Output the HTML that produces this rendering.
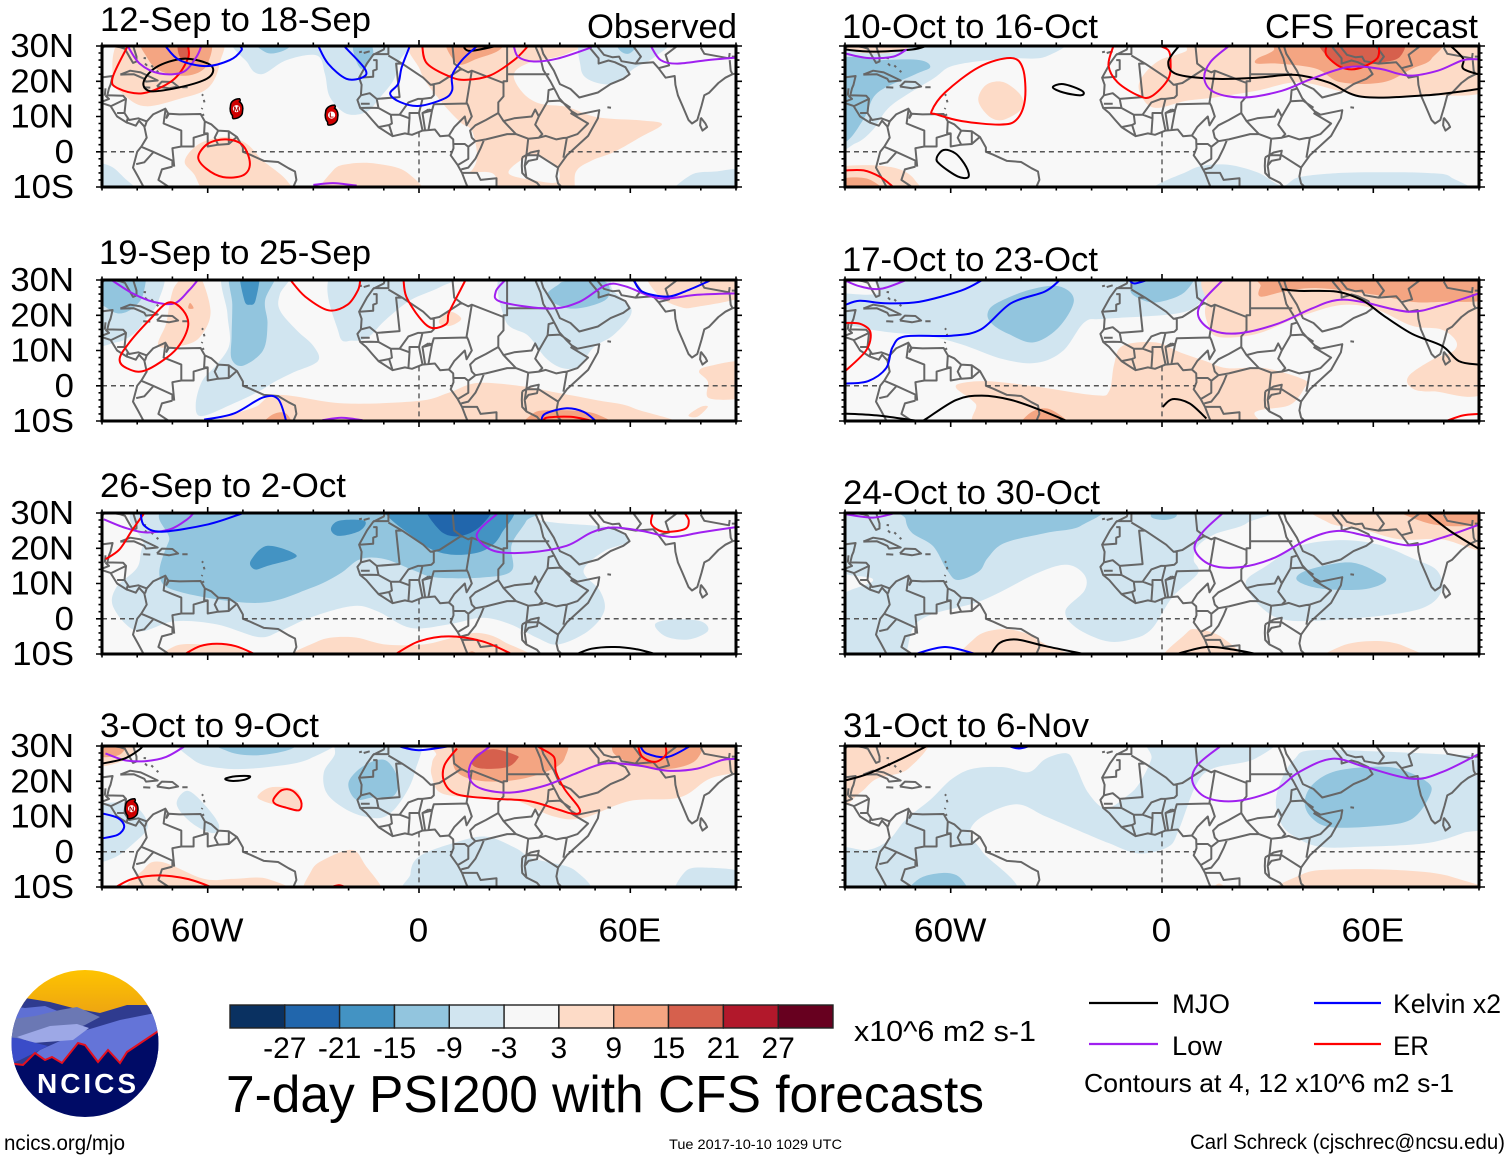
<!DOCTYPE html>
<html lang="en">
<head>
<meta charset="utf-8">
<title>7-day PSI200 with CFS forecasts</title>
<style>
html,body{margin:0;padding:0;background:#fff;}
svg{display:block;position:absolute;left:0;top:0;}
text{font-family:"Liberation Sans",Arial,sans-serif;fill:#000;}
</style>
</head>
<body>
<svg id="chart" xmlns="http://www.w3.org/2000/svg" width="1510" height="1159" viewBox="0 0 1510 1159">
  <rect x="0" y="0" width="1510" height="1159" fill="#ffffff"/>
  <g id="panels"></g>

  <g font-size="34">
    <text x="100" y="31" textLength="271" lengthAdjust="spacingAndGlyphs">12-Sep to 18-Sep</text>
    <text x="99" y="264" textLength="272" lengthAdjust="spacingAndGlyphs">19-Sep to 25-Sep</text>
    <text x="100" y="497" textLength="246" lengthAdjust="spacingAndGlyphs">26-Sep to 2-Oct</text>
    <text x="100" y="737" textLength="219" lengthAdjust="spacingAndGlyphs">3-Oct to 9-Oct</text>
    <text x="842" y="38" textLength="256" lengthAdjust="spacingAndGlyphs">10-Oct to 16-Oct</text>
    <text x="842" y="271" textLength="256" lengthAdjust="spacingAndGlyphs">17-Oct to 23-Oct</text>
    <text x="843" y="504" textLength="257" lengthAdjust="spacingAndGlyphs">24-Oct to 30-Oct</text>
    <text x="843" y="737" textLength="246" lengthAdjust="spacingAndGlyphs">31-Oct to 6-Nov</text>
    <text x="587" y="38" textLength="150" lengthAdjust="spacingAndGlyphs">Observed</text>
    <text x="1265" y="38" textLength="213" lengthAdjust="spacingAndGlyphs">CFS Forecast</text>
  </g>

  <g id="logo">
    <defs>
      <clipPath id="logo-clip"><circle cx="85" cy="1043.5" r="73.5"/></clipPath>
      <linearGradient id="sun" x1="0" y1="0" x2="0" y2="1">
        <stop offset="0" stop-color="#ffc400"/><stop offset="1" stop-color="#eda412"/>
      </linearGradient>
    </defs>
    <g clip-path="url(#logo-clip)">
      <rect x="10" y="969" width="150" height="46" fill="url(#sun)"/>
      <path d="M5 1012 L25 998 L50 1002 L73 1008 L100 1013 L127 1005 L147 1005 L165 1022 L165 1070 L5 1070 Z" fill="#2f3b8f"/>
      <path d="M5 1005 L25 1008 L45 1006 L60 1012 L30 1018 L5 1020 Z" fill="#5f70d4"/>
      <path d="M5 1020 L35 1016 L60 1010 L77 1007 L100 1017 L85 1025 L50 1040 L5 1040 Z" fill="#6b78b4"/>
      <path d="M80 1032 L120 1020 L160 1012 L165 1070 L15 1070 L40 1050 Z" fill="#6474d8"/>
      <path d="M17 1037 L50 1026 L77 1024 L89 1028 L73 1040 L33 1043 Z" fill="#9da8e6"/>
      <path d="M5 1037 L17 1038 L40 1044 L48 1046 L20 1060 L5 1066 Z" fill="#3a4cc8"/>
      <path d="M5 1064 L15 1064 L23 1065 L35 1053 L45 1060 L52 1057 L62 1063 L78 1043 L85 1045 L98 1062 L108 1050 L120 1063 L127 1052 L157 1032 L165 1025 L165 1125 L5 1125 Z" fill="#000b66"/>
      <path d="M5 1064 L15 1064 L23 1065 L35 1053 L45 1060 L52 1057 L62 1063 L78 1043 L85 1045 L98 1062 L108 1050 L120 1063 L127 1052 L157 1032 L165 1025" fill="none" stroke="#e3101f" stroke-width="2"/>
    </g>
    <text x="37" y="1093" font-size="28" font-weight="bold" textLength="99" lengthAdjust="spacing" style="fill:#fff">NCICS</text>
  </g>

  <g id="colorbar"></g>
  <text x="854" y="1041" font-size="29" textLength="182" lengthAdjust="spacingAndGlyphs">x10^6 m2 s-1</text>
  <text x="226" y="1112" font-size="52" textLength="758" lengthAdjust="spacingAndGlyphs">7-day PSI200 with CFS forecasts</text>

  <g>
    <line x1="1089" y1="1003" x2="1158" y2="1003" stroke="#000000" stroke-width="2.2"/>
    <text x="1172" y="1013" font-size="27" textLength="58" lengthAdjust="spacingAndGlyphs">MJO</text>
    <line x1="1314" y1="1003" x2="1381" y2="1003" stroke="#0000ff" stroke-width="2.2"/>
    <text x="1393" y="1013" font-size="27" textLength="108" lengthAdjust="spacingAndGlyphs">Kelvin x2</text>
    <line x1="1089" y1="1044" x2="1158" y2="1044" stroke="#a020f0" stroke-width="2.2"/>
    <text x="1172" y="1055" font-size="27" textLength="50" lengthAdjust="spacingAndGlyphs">Low</text>
    <line x1="1314" y1="1044" x2="1381" y2="1044" stroke="#ff0000" stroke-width="2.2"/>
    <text x="1393" y="1055" font-size="27" textLength="36" lengthAdjust="spacingAndGlyphs">ER</text>
    <text x="1084" y="1092" font-size="26" textLength="370" lengthAdjust="spacingAndGlyphs">Contours at 4, 12 x10^6 m2 s-1</text>
  </g>

  <text x="4" y="1150" font-size="21" textLength="121" lengthAdjust="spacingAndGlyphs">ncics.org/mjo</text>
  <text x="669" y="1149" font-size="14" textLength="173" lengthAdjust="spacingAndGlyphs">Tue 2017-10-10 1029 UTC</text>
  <text x="1190" y="1149" font-size="21" textLength="315" lengthAdjust="spacingAndGlyphs">Carl Schreck (cjschrec@ncsu.edu)</text>
</svg>

<script>
/* ---------- tick labels ---------- */
const latTickValues = [30, 20, 10, 0, -10];
const latTickLabels = ["30N", "20N", "10N", "0", "10S"];
const lonTickValues = [-60, 0, 60];
const lonTickLabels = ["60W", "0", "60E"];

/* ---------- colorbar ---------- */
const colorbarColors = ["#0a3161","#2166ac","#4393c3","#92c5de","#d1e5f0","#f7f7f7","#fddbc7","#f4a582","#d6604d","#b2182b","#67001f"];
const colorbarTicks = ["-27","-21","-15","-9","-3","3","9","15","21","27"];

/* shading band -> colour */
const levelValues = [-27,-21,-15,-9,-3,0,3,9,15,21,27];

/* wave type -> contour colour */
const waveNames = ["MJO","Kelvin","Low","ER"];
const waveColors = ["#000000","#0000ff","#a020f0","#ff0000"];

/* ---------- geography (lon, lat) ---------- */
const coastLines = [
 [[-90,29.2],[-89,30.3],[-85,29.7],[-83.5,29.2],[-82.7,27.8],[-81.2,25.2],[-80.2,25.6],[-80.2,27],[-81.3,30.5]],
 [[-90,21.1],[-87,21.5],[-87.6,19],[-88,18],[-88.5,16],[-84,15.9],[-83.2,15],[-83.6,11],[-82.3,9],[-79.7,9.5],[-77.3,8.6],[-75.5,10.6],[-72,12.2],[-71.3,11],[-71.7,9.6],[-71,10.8],[-68,10.6],[-62,10.7],[-60.8,8.6],[-59,7.8],[-57,6],[-54,5.8],[-51.7,4.2],[-50,1.2],[-50,0],[-48,-0.8],[-44,-2.6],[-40,-2.9],[-37,-4.7],[-35.2,-5.6],[-34.8,-8],[-35.7,-10]],
 [[-90,13.8],[-87.6,13],[-85.7,10],[-83,8.3],[-80.4,7.4],[-79.5,8.8],[-78,7.2],[-77.3,4],[-78.8,1.5],[-80,0],[-81.2,-4.5],[-79.8,-7],[-78.2,-10]],
 [[-84.8,21.9],[-82,23],[-79,22.5],[-76,21.1],[-74.2,20.2],[-77.5,19.9],[-78,20.7],[-81,22],[-84.8,21.9]],
 [[-74.4,18.5],[-73,19.9],[-70,19.8],[-68.4,18.5],[-71,18],[-74.4,18.5]],
 [[-78.3,18.3],[-76.3,18.2]],[[-67.2,18.3],[-65.7,18.3]],[[-61.7,10.2],[-61,10.6]],
 [[-78.2,26.6],[-77.5,26.5]],[[-77.8,25],[-77.2,24.4]],[[-76,24.5],[-75.5,24]],[[-74.5,23],[-74,22.6]],
 [[-61.6,16.3],[-61.3,15.9]],[[-61.1,14.7],[-60.9,14]],[[-61.5,12.4],[-61.7,12.1]],
 [[-17,28.2],[-16.2,28.4]],[[-15.7,28],[-14,28.5]],
 [[-9.7,30],[-10,29],[-13,27.5],[-14.8,25],[-17,21],[-16.3,19],[-16.5,16],[-17.5,14.7],[-16.7,12.4],[-15,11],[-13.3,9],[-11.5,7],[-7.5,4.4],[-4,5.2],[-2,4.8],[1,6],[4.5,6.3],[6,4.4],[8.5,4.6],[9.7,3.5],[9.8,1],[9,-1],[11,-3.8],[12.2,-6],[13.3,-8.8],[13.8,-10]],
 [[33,30],[34.5,26.5],[35.3,23.2],[37.3,20],[38.9,17],[39.8,15.2],[41.9,12.9],[43.3,11.5],[45,10.5],[51.2,11.8],[50.8,9.5],[48,4.5],[42,-1],[39.5,-4.5],[39,-7],[39.5,-9],[40.5,-10]],
 [[34.6,30],[35.3,27.8],[38.3,23],[40,19.2],[43,17.8],[45.5,15.4],[50.8,16.8],[54.4,19.2],[58,20.7],[59.8,22],[58.6,24],[55.6,25.4],[53.8,25.9],[51,25],[51,26.5],[48.5,29.5],[49,30.2],[50.5,30],[52.5,27.5],[55,26.8],[56.8,27],[57.5,25.7],[61.5,25],[66.5,25.4],[68,23.7],[70,21],[72.6,21.5],[72.8,19],[73.5,16],[74.8,13],[76.5,9],[77.5,8],[79,9],[80.2,13],[81,16],[82.3,16.7],[85,19.5],[87,21],[89,22],[91.5,22.5]],
 [[80,9.7],[81.3,8],[81.8,7],[80.5,6],[79.8,7.5],[80,9.7]],
 [[53.5,12.6],[54.5,12.5]],
 [[29.3,-1.6],[31.7,-0.2],[34,0.3],[33.5,-2.1],[31.1,-2.6],[30,-4],[30.5,-7.3],[33.5,-8.8],[34.5,-10]],
 [[29.3,-1.6],[29.2,-4],[29.3,-6],[30.5,-7.3]],
 /* Americas boundaries */
 [[-89,18],[-89.2,15.9]],[[-90,14.2],[-88,15],[-89,15.9]],[[-83.2,15],[-87.3,13]],[[-85.7,11],[-83.7,11]],[[-83,8.3],[-82.7,9.6]],[[-77.3,8.6],[-77.8,7.2]],
 [[-72,11.8],[-72.5,8],[-70,7],[-67.5,6],[-67.5,1.5],[-70,1],[-69.5,-4.2]],[[-78.8,1.4],[-75.5,0],[-70,-2.5],[-70,-4.2]],[[-80.3,-3.5],[-78,-3],[-75.5,-0.2]],[[-70,-4.2],[-73,-5],[-74,-8],[-71,-10]],
 [[-60.8,8.6],[-61,5.2],[-60,5.2],[-64,4],[-64,1.5],[-67.5,1.5]],[[-60,5.2],[-60,1.5],[-57,2],[-54,2.2],[-51.7,4.2]],[[-57,6],[-58,4],[-57,2]],[[-54,5.8],[-54,2.2]],
 /* Africa boundaries */
 [[-13,27.7],[-8.7,27.7],[-8.7,30]],[[-13,26],[-12,26],[-12,23.4],[-13,23],[-13,21.3],[-17,21]],[[-8.7,27.3],[-4.8,25],[-6.5,25],[-5.5,15.5],[-12,15],[-14,16.6],[-16.5,16]],
 [[-4.8,25],[1.2,21],[3.3,19],[4.2,19],[4.2,16],[3.5,15.3],[1,15],[-0.3,15],[-3,14],[-5.5,10.5],[-8,10.5],[-7.7,8],[-8.5,7.6],[-11.5,7]],
 [[3.3,19],[5.8,19.5],[12,23.5],[14,22.5],[15,23],[24,19.5]],[[9.5,30],[10,25],[12,23.5]],[[25,30],[25,20],[24,20],[24,15.7],[22.5,14],[22.5,11],[19,9],[16,7.5],[14.5,6],[15,4],[16,3],[19,3.5],[25,5],[27.5,5],[31,3.7],[34,4],[35,5],[33,7.7],[34,10],[36.5,14.3]],
 [[25,22],[37,22]],[[15,23],[13.5,14],[14,13],[15,10],[13.5,7.5],[13,10],[10,7],[8.5,4.6]],[[2.7,12],[3.7,11.7],[4.2,13.5],[13.5,13.7]],[[2.7,6.3],[3.7,11.7],[1,11],[1.7,6.3]],[[1,6],[0,11],[-2.7,11],[-2.7,9.5],[-3,5]],[[-5.5,10.5],[-2.7,9.5]],
 [[0,11],[1,15]],[[2.7,12],[1,11]],
 [[9.8,2.2],[13,2.2],[14,1.4],[14,-2],[11,-3.8]],[[12,-5],[14,-4.5],[16,-2],[17.5,1],[18.5,3.5]],[[16,3],[14,1.4]],[[12.2,-6],[16.5,-6],[17.5,-8],[22,-7.5],[22,-10]],
 [[24,8.7],[27,9.5],[32,10],[33,12],[34,10]],[[22.5,11],[24,8.7],[27.5,5]],
 [[36.5,14.3],[36.8,17.5],[38.6,18]],[[36.5,14.3],[40,14.5],[43,12.5]],[[43,11],[48,8],[45,5],[42,4],[41,3.9],[39,3.5],[36,4.5],[34,4]],[[42,4],[41,-1.7]],
 [[39.5,-4.5],[34,-1],[30.5,-1],[30,-4]],[[30.5,-1],[31,3.7]],
 [[-16.7,12.4],[-13.7,12.5],[-11.5,12.4],[-8,10.5]],[[-12,15],[-11.5,12.4]],[[-16.5,13.6],[-14,13.6]],[[-8.5,7.6],[-7.5,4.4]],
 /* South Asia boundaries */
 [[61.5,25],[63,27],[61,29.7],[60.8,30.5]],[[68,23.7],[71,24.5],[70,27.5],[74,30.5]],[[80,29.5],[81,27.8],[88,26.5],[88.2,28]],[[88.2,26],[88.5,23],[89,22]],[[88.8,27],[92,27]]
];

/* lat-0 / lon-0 dashed reference segments, drawn over ocean only */
const equatorSpans = [[-90,-80],[-50,9.5],[42.5,90]];
const meridianSpan = [5.5,-10];

/* ---------- storm markers ---------- */
const storms = [
 {panel:0, lon:-51.8, lat:12.2, label:"M"},
 {panel:0, lon:-24.8, lat:10.4, label:"L"},
 {panel:3, lon:-81.6, lat:12.2, label:"N"}
];

/* ---------- panel 1: 12-Sep to 18-Sep ---------- */
const panel1Fills = [
 [-3,[[-50.4,30],[-48.5,25],[-44.7,22],[-37.6,26],[-29,27.3],[-26.7,22],[-25.3,15.5],[-20.6,10.8],[-14.9,11.3],[-11,15.5],[-7.3,20.2],[-5.9,25],[-5.9,30]]],
 [-9,[[-48,30],[-43,28],[-37,29.5],[-37,30]]],
 [-9,[[-18.7,28.8],[-16.3,23.5],[-13,27.8],[-14.9,30],[-18,30]]],
 [-3,[[-90,-3.9],[-88,-3.9],[-83.9,-7.2],[-79,-10],[-90,-10]]],
 [3,[[-83,30],[-87,21],[-83,15.5],[-77.4,12.9],[-68,15],[-60,18],[-56.6,25],[-57.5,30]]],
 [9,[[-78.4,30],[-77,26.4],[-72.7,22.6],[-65,21.7],[-60,25],[-60.4,30]]],
 [15,[[-68.4,28.3],[-67,26],[-65.3,27.8],[-65.5,30],[-68.4,30]]],
 [3,[[-66.5,-2.5],[-62.3,2.3],[-54.7,4.2],[-49,2.3],[-44.3,-2.5],[-37.6,-8.1],[-36.7,-10],[-58,-10],[-64,-6.2]]],
 [3,[[-27,-10],[-24.4,-5.3],[-19.6,-3.4],[-12,-3.4],[-3.5,-5.8],[0.3,-10]]],
 [3,[[0.4,30],[0.4,23],[6,14.6],[11.7,8.4],[15,6],[16.5,-1.2],[15,-5.3],[12.7,-6.2],[21,-6.2],[24.6,-10],[39.7,-10],[44,-10],[44.5,-5.8],[49,-2.5],[55.3,-0.1],[63,4.2],[69,7.8],[63,8.9],[50.6,9.8],[42,12.7],[34.5,13.6],[29.7,16.5],[26.9,21.7],[30.7,25],[42,27.8],[47.8,30]]],
 [0,[[25.5,-6.2],[28.8,-2.5],[33.5,-1],[39.2,-4.3],[39.2,-8.6],[32.6,-8.1]]],
 [9,[[8,30],[10.8,25],[16.5,26.4],[23,29],[24,30]]],
 [-3,[[45.9,24],[48.7,20.2],[55.4,19.3],[61,23.6],[66.8,26.8],[72,30],[47.8,30]]],
 [-9,[[56.8,29],[60,28],[63.4,30],[56,30]]],
 [-3,[[72,-10],[77,-6.7],[84,-5.6],[90,-5.3],[90,-10]]]
];
const panel1Lines = [
 ["ER",false,[[-82.7,30],[-87,21],[-85.5,18],[-78.4,16.6],[-70,20.2],[-65.6,26.4],[-65.6,30]]],
 ["MJO",true,[[-78.2,19.8],[-74.6,24],[-67,26.4],[-59.9,25],[-58.5,22.6],[-61.3,20.2],[-69.8,17.9],[-76.4,17.2]]],
 ["Low",false,[[-82.7,30],[-79.3,25],[-73.6,22.2],[-67,22.6],[-63.2,26.9],[-61.8,30]]],
 ["Kelvin",false,[[-72,30],[-68,26],[-60.4,24.3],[-53.7,26],[-50.4,28.8],[-50.9,30]]],
 ["ER",true,[[-62.7,-1.5],[-59.9,2.3],[-54.7,3.5],[-50,1.8],[-48,-3.4],[-50,-6.7],[-55.6,-7.2],[-60.4,-4.8]]],
 ["Low",false,[[-30,-9.4],[-24.4,-8.9],[-17.7,-9.6]]],
 ["ER",false,[[0.9,30],[2.3,25],[9,21.2],[13.6,20.4],[20.3,21.7],[27,26],[30.7,29.7]]],
 ["MJO",false,[[12.7,29.7],[14.6,28.6],[22,30]]],
 ["Kelvin",false,[[-28.6,30],[-25.8,25],[-20.6,20.7],[-15.8,21.2],[-15.4,23.6],[-21,29.7]]],
 ["Kelvin",false,[[-2.6,30],[-4.9,24],[-5.9,19.3],[-8.2,16.5],[-5.4,14.1],[0,13],[7,15],[9.4,17.4],[9.4,21.7],[12.2,26],[16.5,30]]],
 ["Low",false,[[26.9,30],[28.2,26.9],[32.6,25.6],[39.2,26.4],[47.8,29.2],[49,30]]],
 ["Low",false,[[65.8,30],[68.6,26],[73.4,25],[81.9,26],[90,26.7]]]
];

/* ---------- panel 2: 19-Sep to 25-Sep ---------- */
const panel2Fills = [
 [-3,[[-90,30],[-73.6,30],[-74,24],[-77.8,18.6],[-81,14.7],[-86,12.3],[-90,13]]],
 [-9,[[-90,30],[-79,30],[-78.3,26],[-81.3,22],[-85,20.5],[-88.5,22],[-90,25.7]]],
 [3,[[-68.8,29],[-63.4,30],[-59.2,21.4],[-62.2,13.8],[-67.6,11.3],[-74,11.3],[-71.8,17.6],[-70.6,24.3]]],
 [9,[[-65,23.5],[-64,22],[-65.5,22]]],
 [-3,[[-55,30],[-54.4,20.5],[-53.8,11.8],[-57.4,6],[-61.6,1.3],[-63.4,-5.5],[-61.6,-8.6],[-52.6,-5],[-45.5,-1.6],[-40.7,1.3],[-35.9,3.7],[-28.7,7],[-30,11.3],[-34.7,15.7],[-39.5,21.4],[-39.5,26],[-36.5,30]]],
 [-9,[[-53.2,30],[-53,23],[-53.2,14],[-53.2,7.6],[-50,5.7],[-44.3,10],[-43,17.6],[-43.7,24.3],[-40.6,30]]],
 [-15,[[-50.8,30],[-49.6,24.3],[-48,23],[-46.4,24.3],[-45.4,30]]],
 [-3,[[-23.3,30],[-22.7,14.7],[-19,12.8],[-14.4,13.8],[-9.6,18.6],[-2.4,24.3],[6,28],[14,30]]],
 [-3,[[24.5,30],[24.5,18.6],[31,14.2],[35.9,8],[40.7,5],[45.5,5.6],[49.6,10.9],[55.6,14.7],[60.4,21.4],[55,27.2],[51.4,30]]],
 [-9,[[36.5,26.2],[39.5,28.6],[41.9,29.6],[52.6,29.6],[53.8,25.3],[49.6,22.9],[43,21.9],[37.7,23.8]]],
 [3,[[6,19],[9,21],[12,19],[9,17],[6,17.5]]],
 [3,[[66.4,30],[67.6,26],[74,22.4],[79,22.4],[90,25.8],[90,30]]],
 [3,[[79.5,4],[82.5,5.6],[90,6.5],[90,-2.6],[82.5,-3.6],[82,1.2]]],
 [3,[[76.5,-8.4],[80,-6],[82,-6],[79,-8.8]]],
 [3,[[-52,-10],[-45.5,-5.5],[-39.5,-2.6],[-21.5,-5],[0,-4.3],[8.4,-2],[16.7,0.8],[29.9,-0.2],[38.3,-1.8],[50,-4],[61,-6.4],[68,-10]]],
 [9,[[-45.5,-10],[-42,-8.4],[-37.7,-7.9],[-36,-10]]],
 [9,[[30.5,-10],[32.3,-7.9],[38.3,-6.9],[50,-7.9],[56,-10]]]
];
const panel2Lines = [
 ["Low",false,[[-87.3,30],[-81.3,26.2],[-75.4,23.8],[-69.4,23.4],[-65.2,27.2],[-62.8,30]]],
 ["ER",true,[[-71.2,23.6],[-67,21.4],[-65.6,16.6],[-69.4,9.9],[-77.8,4.3],[-83,5],[-85,7.5],[-82.6,11.8],[-76.6,18.6]]],
 ["ER",false,[[-36.5,30],[-32.3,25.3],[-25.7,21.4],[-20.3,23],[-17.3,27.2],[-16.7,30]]],
 ["ER",false,[[-4.4,30],[-3.6,25.3],[0,19.5],[3.6,16.4],[7.8,17.6],[8.4,20.5],[10.8,25.3],[13.2,30]]],
 ["Low",false,[[24.5,30],[21.8,26.7],[23.3,23.8],[37,21.9],[45.5,23.8],[53.2,28.6],[58.6,28.2],[68.2,24.8],[79,25.8],[90,26.2]]],
 ["Kelvin",false,[[61,30],[63.4,26.7],[70.6,25.3],[76.6,27.2],[83,30]]],
 ["Kelvin",false,[[-61,-9.6],[-52.6,-7.9],[-44.3,-3.3],[-40,-3.8],[-37.7,-10]]],
 ["Low",false,[[-27.5,-9.8],[-22,-9.1],[-16,-9.8]]],
 ["Kelvin",false,[[34.7,-10],[35.9,-7.9],[41.9,-6.4],[46.7,-7.4],[50.2,-10]]],
 ["ER",false,[[35.3,-9.9],[36.5,-9],[43,-8.8],[48.4,-9.8]]]
];

/* ---------- panel 3: 26-Sep to 2-Oct ---------- */
const panel3Fills = [
 [-3,[[-72.4,30],[-78.3,21],[-80,14.5],[-86,8.8],[-86.7,3.1],[-80,-3.5],[-69.4,-0.7],[-57.4,-1.6],[-45.5,-5.2],[-39.5,-3.5],[-31,0.3],[-19,3.6],[-12,2.2],[-2.4,-2.6],[8.4,-1.6],[18,0.3],[26,-1.6],[33.5,-5.4],[39.5,-7.3],[48,-3.5],[52.6,2.2],[51.4,7.9],[46.7,13.6],[52.6,19.2],[59.8,22],[56,25.4],[50,26.4],[38.3,27.3],[33.5,28.7],[33.5,30]]],
 [-9,[[-64.6,30],[-71,22],[-73.6,11.7],[-67,7.4],[-45.5,4.5],[-31,8.6],[-22.7,12.6],[-16.7,16.9],[-9.6,16.9],[-1.2,13.6],[4.8,11.7],[18,11.7],[26.3,13.6],[26.3,21],[30.5,27.8],[32.3,30]]],
 [-15,[[-25,25.4],[-22.7,27.8],[-15.5,27.8],[-16.7,25],[-22.7,23.5]]],
 [-15,[[-9.6,30],[0,22],[8.4,18.3],[18,19.2],[23.3,24],[25,30]]],
 [-15,[[-47.8,16.4],[-43,20.7],[-34.7,17.8],[-43,15],[-46.6,14]]],
 [-21,[[2.4,30],[6,25],[12,23.5],[18,26.8],[20.3,30]]],
 [-3,[[67,-1.6],[71.8,-0.2],[80,-0.7],[82,-3.5],[76.5,-5.9],[70,-5]]],
 [3,[[-73.6,-10],[-69.4,-7.8],[-61,-7.3],[-51.6,-8.2],[-46.7,-10]]],
 [3,[[-34,-10],[-28.7,-6.4],[-19,-5.2],[-9.6,-7.3],[1.2,-7.3],[9.6,-5.4],[16.7,-4],[23.9,-6.4],[30,-10]]],
 [9,[[11.5,-10],[15,-9.2],[19,-10]]]
];
const panel3Lines = [
 ["Low",false,[[-89.5,28.2],[-83.7,25.9],[-77.8,24.5],[-70.6,25.4],[-65.8,28.2],[-64,30]]],
 ["ER",false,[[-78.2,29.7],[-81.5,25],[-85,19.7],[-89,16.9]]],
 ["Kelvin",false,[[-79,30],[-78,26.4],[-73,24.7],[-59.8,26.8],[-50.2,29.9]]],
 ["Low",false,[[22.1,29.7],[17.3,25.4],[16.7,22.6],[21.5,19.2],[31,18.8],[41.9,20.7],[49,24.5],[55,25.9],[63.4,24.9],[71.8,23.2],[80,24.5],[90,26]]],
 ["ER",false,[[66.4,30],[66,26.8],[69.4,24.7],[75.4,25.4],[76.6,27.8],[75.4,30]]],
 ["ER",false,[[-66.4,-10],[-62.2,-7.8],[-57.4,-7.1],[-52,-7.8],[-46.7,-10]]],
 ["ER",false,[[-6.6,-10],[0,-6.4],[8.4,-5],[18,-6.4],[26.3,-10]]],
 ["MJO",false,[[44.9,-10],[49,-8.5],[55.6,-8],[62,-8.7],[67,-10]]]
];

/* ---------- panel 4: 3-Oct to 9-Oct ---------- */
const panel4Fills = [
 [3,[[-90,24.5],[-83,26.4],[-80,30],[-90,30]]],
 [9,[[-90,30],[-90,27.5],[-85,27.5],[-83,30]]],
 [-3,[[-66.4,30],[-64,26],[-55,23.6],[-43,24],[-31,26.4],[-24,30]]],
 [-9,[[-60.3,30],[-54,28.4],[-45.5,27.4],[-36,29.3],[-34,30]]],
 [-3,[[-24,27.4],[-27,22.6],[-26.3,16.8],[-21.5,12.5],[-15.5,10],[-9.6,10],[-4.8,14.9],[-1.2,22.6],[-0.6,30],[-22,30]]],
 [-9,[[-20,19.7],[-15.5,24.5],[-9.6,26],[-6,20.7],[-7.2,15.9],[-13.2,15.4],[-18,14.9]]],
 [-3,[[-90,11.5],[-86,14],[-80,12.5],[-77,7.2],[-81,2.4],[-87,-1.9],[-90,-1.9]]],
 [-3,[[-68.8,13.5],[-65.8,17.3],[-61,13.5],[-56.8,7.7],[-58.6,5.3],[-64.6,8.2]]],
 [3,[[-45.8,15.9],[-41.9,18.3],[-34.7,17.3],[-33.5,12],[-39.5,13],[-44.3,14.4]]],
 [3,[[3.6,24.5],[4.8,27.4],[10.8,30],[90,30],[90,24],[82.5,20.7],[74,15.4],[59.8,14.4],[46.7,9.6],[38.3,10],[26.3,14.9],[14.4,15.4],[6,16.8],[3.6,21.6]]],
 [9,[[9.6,27.4],[12,30],[39.5,30],[41.3,26.4],[35.9,22.6],[26.3,20.2],[16.7,20.2],[10.8,22.6]]],
 [9,[[55,28.4],[58.6,30],[79,30],[79,26.4],[71.8,23.6],[62,24.5]]],
 [15,[[15,25],[16.7,27.9],[21.5,29.1],[27.5,27.4],[28,26.4],[25,24],[18,23.6]]],
 [3,[[-81,-10],[-78,-4.8],[-73,-2.9],[-61,-7.7],[-52.6,-7.7],[-43,-7.7],[-36,-10]]],
 [3,[[-31.7,-10],[-30.5,-5.3],[-26.3,-1.9],[-19,0.5],[-15.5,-3.4],[-10.8,-10]]],
 [-3,[[-2.4,-6.3],[0,-1.4],[9.6,2.4],[19,4.3],[27.5,1],[32.3,-1.9],[44.3,-5.3],[45.5,-10],[-1.2,-10]]],
 [-3,[[73.6,-10],[75.4,-5.8],[81.3,-4.5],[90,-6.2],[90,-10]]]
];
const panel4Lines = [
 ["Kelvin",false,[[-90,10.9],[-85.5,9.6],[-83.7,7.2],[-85.5,4.8],[-90,3.8]]],
 ["ER",true,[[-41.3,14.9],[-38.9,17.5],[-35.9,17.3],[-33.5,14.4],[-34,11.8],[-37.7,12.5],[-40.7,13.5]]],
 ["MJO",true,[[-55,20.7],[-52,21.4],[-48,21.4],[-49.6,20.4],[-53.2,20.1]]],
 ["ER",false,[[10.8,29.3],[7.2,24.5],[7.2,19.7],[10.8,16.3],[20.3,15.1],[31,14.4],[39.5,12],[43,10.9],[45.5,11],[45.2,12.8],[41.3,17.8],[38.9,22.6],[38.3,26.9],[34.7,29.3],[33.5,30]]],
 ["Low",false,[[-89,27.9],[-83.7,26],[-77.8,25.7],[-71.8,26.9],[-66.4,30]]],
 ["Low",false,[[20.3,30],[15,25.5],[14.4,20.7],[18,17.8],[26.3,16.8],[35.9,18.8],[44.3,22.1],[52.6,25],[62,24.5],[70.6,23],[79,23.6],[86,26],[90,26.3]]],
 ["MJO",false,[[-90,25],[-83.7,26.4],[-79.6,28.8],[-78.4,30]]],
 ["Kelvin",false,[[-6,30],[0,28.8],[9,30]]],
 ["Kelvin",false,[[62.8,30],[64.6,27.9],[70.6,26.9],[77,30]]],
 ["ER",false,[[62.2,30],[63.4,26.9],[67,25.5],[70,27.4],[70,30]]],
 ["ER",false,[[-86,-10],[-81.3,-7.7],[-74,-6.7],[-65.8,-7.7],[-59,-10]]],
 ["ER",false,[[-25,-10],[-22.7,-9.5],[-21,-10]]]
];

/* ---------- panel 5: 10-Oct to 16-Oct ---------- */
const panel5Fills = [
 [-3,[[-90,28],[-75,28.4],[-69,30],[-28,30],[-33,27],[-45,26.4],[-59,24.5],[-65,20.7],[-77,13],[-82,6.3],[-87,2.4],[-90,2]]],
 [-9,[[-90,25],[-79.5,26],[-68.8,26],[-65.8,24],[-70,22],[-80.7,16.8],[-84.3,10],[-89,3.4],[-90,3]]],
 [3,[[-90,30],[-88,28.5],[-75,28.4],[-69,30]]],
 [3,[[-52,15.9],[-49.6,19.2],[-44.9,19.7],[-40,15.9],[-40,12],[-44.9,9.1],[-48.5,9.6],[-51.6,13]]],
 [3,[[-90,-5.3],[-84.7,-3.8],[-75,-4.8],[-70,-8.2],[-69.4,-10],[-90,-10]]],
 [9,[[-90,-8.2],[-83.5,-7.7],[-78.3,-10],[-90,-10]]],
 [-3,[[1.2,-10],[7.8,-5.3],[17.3,-3.6],[27,-5.8],[34,-9.6],[39,-7.2],[50.8,-6],[62.8,-5.8],[74.8,-6],[82,-7.2],[82.5,-10]]],
 [3,[[-6.6,17.8],[-5.4,21.6],[-0.6,26],[6.6,28.4],[15,30],[90,30],[90,17.8],[74.8,15.9],[60.4,15.4],[52,16.8],[38.9,19.7],[26.9,17.3],[15,15.4],[6.6,14.4],[-0.6,12.5],[-4.2,13.5]]],
 [9,[[27,26.4],[31.7,28.8],[34,30],[77,30],[76.5,26.4],[71,23.6],[62.8,19.7],[50.8,19.7],[43.7,23.6],[32.9,25],[27,25]]],
 [15,[[44.9,30],[48.4,25.5],[53,24],[60.4,25],[67.6,27],[67,30]]]
];
const panel5Lines = [
 ["ER",true,[[-65.4,11.5],[-61.6,16.8],[-52,24],[-43,26.6],[-39.5,23.6],[-38.9,14.9],[-41.3,9.1],[-46,7.7],[-56.8,8.7],[-64,10.6]]],
 ["MJO",true,[[-31,18.3],[-28,19.2],[-22.7,17.3],[-23,16],[-28,16.8]]],
 ["MJO",true,[[-64,-1.9],[-62,0.5],[-58.6,-0.5],[-55.6,-4.3],[-55,-7.2],[-58,-7],[-62.8,-3.8]]],
 ["ER",false,[[-90,-5.3],[-84.7,-5.3],[-79.9,-7.2],[-76.3,-10]]],
 ["ER",false,[[-13.8,30],[-15.2,24.5],[-12.6,19.7],[-6.6,15.9],[-3,15.7],[1.8,20.7],[2.4,26],[1.8,28.8],[-0.6,30]]],
 ["ER",false,[[46.7,30],[46.7,27.4],[50.8,24],[55.6,23.6],[61,26.4],[61.6,30]]],
 ["MJO",false,[[4.8,30],[1.8,25.5],[4.2,22],[15,20.7],[26.9,21],[37.7,21.8],[47.2,19.7],[56.8,15.6],[74.8,16],[90,17.8]]],
 ["MJO",false,[[82,30],[85.5,26.4],[85.5,23.6],[90.3,21.8]]],
 ["MJO",false,[[-90,29],[-82,28.4],[-71,29],[-67,30]]],
 ["Low",false,[[-90,27.9],[-83.5,26.6],[-76.3,27],[-72.5,29]]],
 ["Low",false,[[19,30],[13.8,25.5],[12,20.7],[15,16.8],[23.3,15.4],[34,17.3],[42.5,20.7],[52.6,24],[61.6,23.6],[70,21.6],[78.3,23],[85.5,26],[90.3,26.2]]]
];

/* ---------- panel 6: 17-Oct to 23-Oct ---------- */
const panel6Fills = [
 [-3,[[-90,25.8],[-80.7,26.2],[-72.5,30],[19.7,30],[11.4,24],[4.2,20.5],[-16.3,19],[-22,18],[-28,10],[-35.5,6.5],[-45,7.5],[-57,11.8],[-66.8,14.2],[-77.5,15.2],[-86,16.6],[-90,18.6]]],
 [-9,[[-49.5,20.5],[-47,23.4],[-37.7,27.2],[-29.3,28.2],[-25,24.3],[-29.3,16.6],[-36.5,12.3],[-43.6,14.7],[-48.3,17.6]]],
 [-9,[[-9,27.2],[-5.4,30],[9,30],[6.6,26.7],[-0.6,23.8],[-5.4,24.3]]],
 [3,[[19,30],[12.6,23.4],[13.2,17],[16.2,13.8],[26.9,14.7],[38.9,19.5],[50.8,22.9],[60.4,21.8],[71,17],[79.2,16],[83.4,12.8],[82.8,9.9],[77,7.5],[70,2.7],[71,-0.7],[77,-1.6],[90,-0.2],[90,30]]],
 [9,[[28,25.3],[28,28.2],[31.7,30],[90,30],[90,24.8],[79.2,23.8],[71,23.8],[60.4,25.8],[44.3,27.7],[34.7,26.7]]],
 [3,[[-58.4,-0.7],[-56.6,0.8],[-49.4,1.3],[-37.3,0],[-19,-2.7],[-15,-1.5],[-13.6,6],[-11.2,11.3],[-1.8,12.3],[5.3,9.4],[12.4,7],[18.4,5],[29.1,5],[40.4,1.7],[40.4,-0.7],[36.2,-5.5],[26.6,-7.4],[22,-10],[-47,-10],[-53,-5]]],
 [9,[[-40,-10],[-37.7,-7.9],[-31.7,-6.7],[-25,-10]]],
 [3,[[-90,-4.5],[-88.5,-10],[-90,-10]]]
];
const panel6Lines = [
 ["Low",false,[[-90,29.9],[-85.8,28.2],[-79.8,27.5],[-72.6,30]]],
 ["Kelvin",false,[[-90,22.9],[-85.8,24.1],[-78.6,23.4],[-69,23.8],[-57,27],[-51,30]]],
 ["Kelvin",false,[[-90,0.6],[-83.5,1.3],[-78.3,5],[-76.5,10.9],[-72.9,14],[-59.8,14.2],[-51.4,16],[-42.9,23.4],[-33.3,26.7],[-29,30]]],
 ["ER",false,[[-90,17.8],[-85.8,17.6],[-82.8,15.2],[-84,10],[-90,4.1]]],
 ["Kelvin",false,[[-9.3,30],[-7.8,29],[-4.2,30]]],
 ["Low",false,[[17.3,30],[11.4,23.8],[10.4,19.5],[14.4,15.7],[22,14.9],[32.9,17.6],[42.5,21.9],[49.6,24.3],[56.8,23.8],[70,21],[79.6,22.9],[90,26.2]]],
 ["MJO",false,[[34,27.4],[38.9,26.9],[49.6,26.7],[56.8,24.3],[62.8,20],[71,14.7],[79.5,11.3],[84.3,7],[90,6]]],
 ["MJO",false,[[-90,-7.9],[-81,-8.4],[-69,-10]]],
 ["MJO",false,[[-68,-10],[-66.8,-9.3],[-58.4,-4],[-51.2,-2.8],[-42.9,-4],[-34.5,-6.9],[-27,-10]]],
 ["MJO",false,[[0.2,-6],[3,-3.8],[7.8,-5],[12.6,-9.3]]],
 ["ER",false,[[80.7,-10],[85.5,-8.4],[90,-8]]]
];

/* ---------- panel 7: 24-Oct to 30-Oct ---------- */
const panel7Fills = [
 [-3,[[-90,30],[26,30],[24.2,27.2],[15,24],[10.2,20.6],[9,16.7],[10.2,12.9],[3,6.2],[-3,-3],[-9,-5.9],[-16,-6.3],[-24.4,-2.5],[-27.4,2.3],[-22,8],[-22,12.4],[-27,15.3],[-35.5,12.9],[-51,5.2],[-69,-0.6],[-75,-10],[-90,-10],[-90,4.7],[-82,11],[-90,14.8]]],
 [-3,[[24,11],[29.3,14.8],[38.9,20.6],[50.8,22.3],[61.6,21],[71,17.2],[78,13.8],[79.4,8],[74.6,3.3],[62.6,0.9],[42.5,-0.6],[34,-0.1],[29.3,2.3],[25,7]]],
 [-9,[[-72.8,28.3],[-72.2,30],[-18.5,30],[-23,26.4],[-32.7,24.4],[-44.7,21.5],[-49.5,17.2],[-52,13.4],[-58,11],[-61,13.8],[-65,20.6],[-71,24.4]]],
 [-9,[[-3.2,29.2],[0.6,30],[4.2,29.4],[0.6,28]]],
 [-9,[[38.3,11],[41.3,13.8],[53.2,16],[61.6,12.9],[63.4,10.5],[56.8,8.3],[44.8,8.6]]],
 [3,[[43.7,30],[47.2,27.3],[56.8,25.4],[67.6,22.5],[79.5,22.5],[90,19.6],[90,30]]],
 [9,[[64.8,30],[74.8,27.3],[86.7,26.3],[90,28.3],[90,30]]],
 [3,[[-56,-10],[-53,-5.4],[-46,-3],[-39,-4],[-33,-7.3],[-22,-10]]],
 [3,[[0,-10],[6.6,-4.4],[10,-3],[17.2,-5.4],[23.3,-10]]],
 [3,[[44.9,-10],[50.8,-7.8],[60.4,-6.3],[68.8,-7.8],[76,-10]]]
];
const panel7Lines = [
 ["Low",false,[[-90,29.7],[-82,28.7],[-75.8,30]]],
 ["Kelvin",false,[[-70,-10],[-61.6,-8],[-53,-10]]],
 ["MJO",false,[[-48.5,-10],[-46,-6.8],[-41.3,-5.9],[-33,-7.8],[-22,-10]]],
 ["MJO",false,[[4.2,-10],[12.6,-8],[19.8,-8.7],[26.9,-10]]],
 ["Low",false,[[17.3,30],[11.4,24.4],[9.3,19.6],[13.8,15.3],[22,14.6],[31.7,17.2],[41.3,22.5],[49.6,24.9],[58,23.5],[70,20.8],[79.5,23],[90.3,26.8]]],
 ["MJO",false,[[75.3,30],[81.8,24.9],[90.3,19.6]]]
];

/* ---------- panel 8: 31-Oct to 6-Nov ---------- */
const panel8Fills = [
 [3,[[-90,30],[-66.8,30],[-72,23.6],[-81,20.7],[-85.6,16.8],[-90,12.5]]],
 [-3,[[-2.4,30],[31.7,30],[26.4,26.4],[14.4,23.6],[9.6,18.8],[4.8,6.3],[1.8,1.4],[-6.6,-0.5],[-15,2.4],[-22,5.3],[-33,10],[-41.3,13.5],[-51,10],[-54.6,5.3],[-51,0],[-42.7,-10],[-90,-10],[-90,0.5],[-83.5,0.5],[-77.5,3.4],[-72.8,9.1],[-65.6,14.9],[-59.6,20.7],[-53.6,23.6],[-45,24],[-37.8,22.6],[-33,26.4],[-27,27.9],[-24.6,24.5],[-21,16.8],[-16,12.3],[-10,15.8],[-6.6,19.2],[-3,26.4]]],
 [-9,[[-72,-10],[-69,-7.7],[-61.6,-6],[-57,-7.7],[-55.8,-10]]],
 [-3,[[32.3,13.9],[34,20.7],[37.7,26.4],[42.5,28.8],[62.8,28.4],[86.7,27.4],[90,28.3],[90,8.7],[85.4,5.3],[74.8,2.4],[56.8,1.4],[44.8,1.4],[37.7,4.3],[34,7.7]]],
 [-9,[[40.5,13.9],[42.5,18.8],[48.4,22.6],[57.9,24],[67,23.6],[75.4,19.7],[76,15.9],[70.6,9.1],[59.8,7.2],[47.8,7],[42.5,9.6]]],
 [3,[[34,-10],[40,-6.3],[50.8,-5],[68.8,-5.3],[82.5,-7.2],[90,-10]]],
 [3,[[13,-10],[16.2,-9],[19.8,-10]]]
];
const panel8Lines = [
 ["MJO",false,[[-90,20.2],[-83.5,22.1],[-73.9,26.4],[-66.7,30]]],
 ["Kelvin",false,[[-43.6,30],[-40.6,29.3],[-37.6,30]]],
 ["Low",false,[[16.7,30],[10,24.5],[8.7,19.7],[12.6,15.4],[21,14.4],[31.7,17.3],[38.9,22.6],[48.4,26.4],[57.9,24],[71,20.7],[79.5,22.6],[90.3,27.9]]]
];

const panelFills = [panel1Fills,panel2Fills,panel3Fills,panel4Fills,panel5Fills,panel6Fills,panel7Fills,panel8Fills];
const panelLines = [panel1Lines,panel2Lines,panel3Lines,panel4Lines,panel5Lines,panel6Lines,panel7Lines,panel8Lines];

/* ---------- layout ---------- */
const SVGNS = "http://www.w3.org/2000/svg";
const frameW = 634, frameH = 141;
const layoutLeft = [102,102,102,102,845,845,845,845];
const layoutTop = [46,280,513,746,46,280,513,746];

function xScale(p, lon){ return layoutLeft[p] + (lon + 90) * frameW / 180; }
function yScale(p, lat){ return layoutTop[p] + (30 - lat) * frameH / 40; }
function colorOf(level){
  if (level === 0) return "#f8f8f8";
  return colorbarColors[levelValues.indexOf(level)];
}
function colorOfWave(name){ return waveColors[waveNames.indexOf(name)]; }
function mk(tag, attrs, parent){
  const el = document.createElementNS(SVGNS, tag);
  for (const k in attrs) el.setAttribute(k, attrs[k]);
  parent.appendChild(el);
  return el;
}
function widen(t, factor){
  t.setAttribute("textLength", (t.getComputedTextLength() * factor).toFixed(1));
  t.setAttribute("lengthAdjust", "spacingAndGlyphs");
}
function outward(pt){
  let lon = pt[0], lat = pt[1];
  if (lat >= 29.9) lat = 33;
  if (lat <= -9.9) lat = -13;
  if (lon >= 89.9) lon = 93;
  if (lon <= -89.9) lon = -93;
  return [lon, lat];
}
function smoothPath(pts, closed){
  const n = pts.length;
  let d = "M" + pts[0][0].toFixed(1) + " " + pts[0][1].toFixed(1);
  const segs = closed ? n : n - 1;
  for (let i = 0; i < segs; i++){
    const p0 = closed ? pts[(i - 1 + n) % n] : pts[Math.max(i - 1, 0)];
    const p1 = pts[i % n];
    const p2 = pts[(i + 1) % n];
    const p3 = closed ? pts[(i + 2) % n] : pts[Math.min(i + 2, n - 1)];
    d += "C" + (p1[0] + (p2[0] - p0[0]) / 6).toFixed(1) + " " + (p1[1] + (p2[1] - p0[1]) / 6).toFixed(1) + " "
       + (p2[0] - (p3[0] - p1[0]) / 6).toFixed(1) + " " + (p2[1] - (p3[1] - p1[1]) / 6).toFixed(1) + " "
       + p2[0].toFixed(1) + " " + p2[1].toFixed(1);
  }
  return d + (closed ? "Z" : "");
}
function toPixels(p, pts){ return pts.map(function(q){ return [xScale(p, q[0]), yScale(p, q[1])]; }); }
function linePath(p, pts){
  return pts.map(function(q, i){ return (i ? "L" : "M") + xScale(p, q[0]).toFixed(1) + " " + yScale(p, q[1]).toFixed(1); }).join("");
}

const panelsRoot = document.getElementById("panels");

for (let p = 0; p < 8; p++){
  const g = mk("g", {}, panelsRoot);
  
  

  const defs = mk("defs", {}, g);
  const clip = mk("clipPath", {id: "panel-clip-" + p}, defs);
  mk("rect", {x: layoutLeft[p], y: layoutTop[p], width: frameW, height: frameH}, clip);

  const bg = mk("rect", {x: layoutLeft[p], y: layoutTop[p], width: frameW, height: frameH, fill: "#f8f8f8"}, g);
  
  

  const plot = mk("g", {"clip-path": "url(#panel-clip-" + p + ")"}, g);

  panelFills[p].forEach(function(f){
    const shape = mk("path", {d: smoothPath(toPixels(p, f[1].map(outward)), true), fill: colorOf(f[0])}, plot);
    
    
  });

  const coast = mk("path", {d: coastLines.map(function(c){ return linePath(p, c); }).join(""), fill: "none", stroke: "#666666", "stroke-width": 2, "stroke-linejoin": "round"}, plot);
  
  

  equatorSpans.forEach(function(s){
    const eq = mk("line", {x1: xScale(p, s[0]), x2: xScale(p, s[1]), y1: yScale(p, 0), y2: yScale(p, 0), stroke: "#555555", "stroke-width": 1.4, "stroke-dasharray": "5 4"}, plot);
    
    
  });
  const mer = mk("line", {x1: xScale(p, 0), x2: xScale(p, 0), y1: yScale(p, meridianSpan[0]), y2: yScale(p, meridianSpan[1]), stroke: "#555555", "stroke-width": 1.4, "stroke-dasharray": "5 4"}, plot);
  
  

  panelLines[p].forEach(function(c){
    const curve = mk("path", {d: smoothPath(toPixels(p, c[2]), c[1]), fill: "none", stroke: colorOfWave(c[0]), "stroke-width": 2, "stroke-linejoin": "round"}, plot);
    
    
  });

  storms.filter(function(s){ return s.panel === p; }).forEach(function(s){
    const mark = mk("g", {transform: "translate(" + xScale(p, s.lon).toFixed(1) + " " + yScale(p, s.lat).toFixed(1) + ")"}, plot);
    
    
    mk("path", {d: "M3 -10 C-2 -10 -6 -7 -6 -3 C-7 1 -6 5 -4 7 C-4 9 -4 10 -3 10 C2 10 6 7 6 3 C7 -1 6 -5 3 -7 C4 -8 4 -9 3 -10 Z", fill: "#d00000", stroke: "#000000", "stroke-width": 1.5}, mark);
    mk("circle", {cx: 0, cy: 0, r: 3.6, fill: "#ffffff"}, mark);
    const lab = mk("text", {x: 0, y: 2.6, "font-size": 7.5, "font-weight": "bold", "text-anchor": "middle", style: "fill:#b00000"}, mark);
    lab.textContent = s.label;
  });

  /* ticks */
  let tickD = "";
  for (let lon = -90; lon <= 90; lon += 10){
    const major = lonTickValues.indexOf(lon) >= 0;
    const len = major ? 6 : 3.5;
    const x = xScale(p, lon).toFixed(1);
    tickD += "M" + x + " " + layoutTop[p] + "v" + (-len) + "M" + x + " " + (layoutTop[p] + frameH) + "v" + len;
  }
  for (let lat = -10; lat <= 30; lat += 2){
    const major = latTickValues.indexOf(lat) >= 0;
    const len = major ? 6 : 3.5;
    const y = yScale(p, lat).toFixed(1);
    tickD += "M" + layoutLeft[p] + " " + y + "h" + (-len) + "M" + (layoutLeft[p] + frameW) + " " + y + "h" + len;
  }
  const ticks = mk("path", {d: tickD, stroke: "#000000", "stroke-width": 1.6, fill: "none"}, g);
  
  

  const frame = mk("rect", {x: layoutLeft[p], y: layoutTop[p], width: frameW, height: frameH, fill: "none", stroke: "#000000", "stroke-width": 3}, g);
  
  

  /* latitude labels on left column */
  if (p < 4){
    latTickValues.forEach(function(v, i){
      const t = mk("text", {x: 74, y: (yScale(p, v) + 11).toFixed(1), "font-size": 33, "text-anchor": "end"}, g);
      
      
      t.textContent = latTickLabels[i];
      widen(t, 1.05);
    });
  }
  /* longitude labels below bottom row */
  if (p === 3 || p === 7){
    lonTickValues.forEach(function(v, i){
      const t = mk("text", {x: (xScale(p, v) - 0.5).toFixed(1), y: 941.5, "font-size": 33, "text-anchor": "middle"}, g);
      
      
      t.textContent = lonTickLabels[i];
      widen(t, 1.07);
    });
  }
}

/* ---------- colorbar ---------- */
const cbRoot = document.getElementById("colorbar");
const cbLeft = 230, cbRight = 833, cbTop = 1005, cbBottom = 1028;
const cbStep = (cbRight - cbLeft) / colorbarColors.length;
colorbarColors.forEach(function(c, i){
  const box = mk("rect", {x: (cbLeft + i * cbStep).toFixed(1), y: cbTop, width: cbStep.toFixed(1), height: cbBottom - cbTop, fill: c, stroke: "#222222", "stroke-width": 1.4}, cbRoot);
  
  
});
colorbarTicks.forEach(function(label, i){
  const t = mk("text", {x: (cbLeft + (i + 1) * cbStep).toFixed(1), y: 1058, "font-size": 30, "text-anchor": "middle"}, cbRoot);
  
  
  t.textContent = label;
});
</script>
</body>
</html>
